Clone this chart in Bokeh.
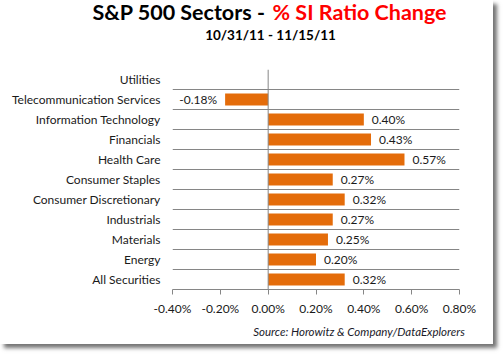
from bokeh.plotting import figure
from bokeh.layouts import column
from bokeh.models import ColumnDataSource, FixedTicker, Span, LabelSet, Title, Range1d
from bokeh.core.properties import value
from bokeh.embed import file_html
from bokeh.resources import INLINE

sectors = ["All Securities", "Energy", "Materials", "Industrials",
           "Consumer Discretionary", "Consumer Staples", "Health Care",
           "Financials", "Information Technology",
           "Telecommunication Services", "Utilities"]
changes = [0.32, 0.20, 0.25, 0.27, 0.32, 0.27, 0.57, 0.43, 0.40, -0.18, None]
x_ticks = [-0.4, -0.2, 0.0, 0.2, 0.4, 0.6, 0.8]
x_tick_labels = ["-0.40%", "-0.20%", "0.00%", "0.20%", "0.40%", "0.60%", "0.80%"]
title_black = "S&P 500 Sectors -"
title_red = "% SI Ratio Change"
subtitle = "10/31/11 - 11/15/11"
source_note = "Source:  Horowitz & Company/DataExplorers"

FONT = "Lato"
ORANGE = "#E46C0A"
GREY = "#868686"
TXT = "#1a1a1a"

# ---------- header figure (title + subtitle) ----------
W = 493
HEAD_H = 50
head = figure(width=W, height=HEAD_H, x_range=Range1d(0, W), y_range=Range1d(HEAD_H, 0),
              output_backend="svg", toolbar_location=None,
              min_border=0, min_border_left=0, min_border_right=0,
              min_border_top=0, min_border_bottom=0)
head.frame_align = False
head.axis.visible = False
head.grid.visible = False
head.outline_line_color = None
head.border_fill_color = "white"
head.background_fill_color = "white"
hsrc = ColumnDataSource(dict(
    x=[265, 272, 270], y=[11, 11, 34],
    t=[title_black, title_red, subtitle],
    a=["right", "left", "center"],
    c=["black", "#FF0000", "black"],
    s=["21.5px", "21.5px", "13.5px"]))
head.text(x="x", y="y", text="t", text_align="a", text_color="c",
          text_font_size="s", text_baseline="middle",
          text_font=value(FONT), text_font_style="bold", source=hsrc)

# ---------- main chart ----------
pos = [i + 0.5 for i in range(len(sectors))]
bar_x, bar_y, lab_t, lab_align, lab_off = [], [], [], [], []
for yv, v in zip(pos, changes):
    if v is None:
        continue
    bar_x.append(v)
    bar_y.append(yv)
    lab_t.append(f"{v:.2f}%")
    lab_align.append("left" if v >= 0 else "right")
    lab_off.append(8 if v >= 0 else -8)

bars = ColumnDataSource(dict(x=bar_x, y=bar_y, t=lab_t, a=lab_align, o=lab_off))

p = figure(width=W, height=344 - HEAD_H, x_range=(-0.4, 0.8), y_range=(0, len(sectors)),
           output_backend="svg", toolbar_location=None,
           min_border_left=172, min_border_right=34, min_border_top=69 - HEAD_H,
           min_border_bottom=55)
p.frame_align = False
p.outline_line_color = None
p.background_fill_color = "white"
p.border_fill_color = "white"

p.hbar(y="y", right="x", left=0, height=0.6, source=bars,
       fill_color=ORANGE, line_color=None)

p.add_layout(LabelSet(x="x", y="y", text="t", source=bars, text_align="a",
                      x_offset="o", text_baseline="middle",
                      text_font=value(FONT), text_font_size="12px",
                      text_color=TXT))

p.add_layout(Span(location=0, dimension="height", line_color=GREY, line_width=1))

p.xgrid.visible = False
p.ygrid.ticker = FixedTicker(ticks=list(range(len(sectors) + 1)))
p.ygrid.grid_line_color = GREY
p.ygrid.grid_line_width = 1

p.yaxis.ticker = FixedTicker(ticks=pos)
p.yaxis.major_label_overrides = {yv: s for yv, s in zip(pos, sectors)}
p.yaxis.axis_line_color = None
p.yaxis.major_tick_line_color = None
p.yaxis.minor_tick_line_color = None
p.yaxis.major_tick_out = 0
p.yaxis.major_tick_in = 0
p.yaxis.major_label_standoff = 12
p.yaxis.major_label_text_font = FONT
p.yaxis.major_label_text_font_size = "12px"
p.yaxis.major_label_text_color = TXT

p.xaxis.ticker = FixedTicker(ticks=x_ticks)
p.xaxis.major_label_overrides = {t: l for t, l in zip(x_ticks, x_tick_labels)}
p.xaxis.axis_line_color = GREY
p.xaxis.major_tick_line_color = GREY
p.xaxis.minor_tick_line_color = None
p.xaxis.major_tick_in = 0
p.xaxis.major_tick_out = 5
p.xaxis.major_label_standoff = 6
p.xaxis.major_label_text_font = FONT
p.xaxis.major_label_text_font_size = "12px"
p.xaxis.major_label_text_color = TXT

p.add_layout(Title(text=source_note, align="right", offset=-8, standoff=9,
                   text_font=FONT, text_font_size="11.5px",
                   text_font_style="italic", text_color="#1a1a2a"), "below")

layout = column(head, p, spacing=0)
layout.styles = {"box-shadow": "4px 4px 4px rgba(0,0,0,0.55)", "background": "white"}

open("out.html", "w").write(file_html(layout, INLINE))
